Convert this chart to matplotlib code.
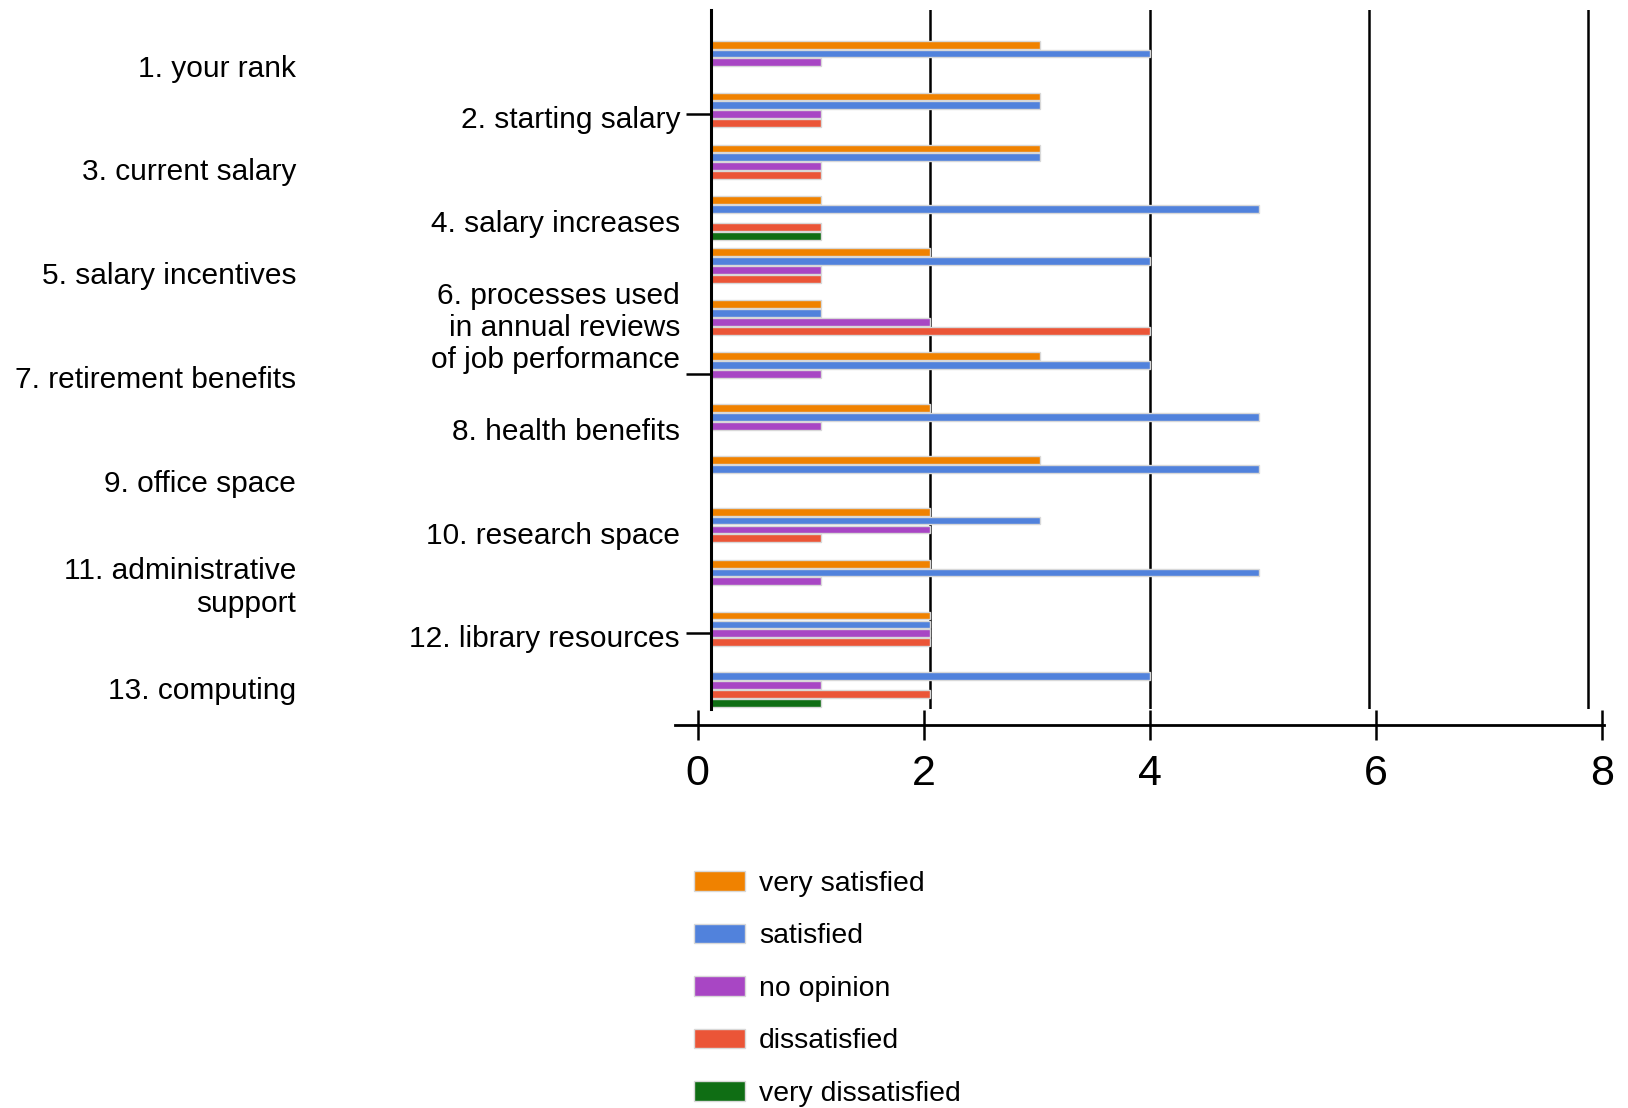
import matplotlib
matplotlib.use("Agg")
import matplotlib.pyplot as plt
import numpy as np

# survey items (13 questions) and response counts per rating
questions = [
    "1. your rank",
    "2. starting salary",
    "3. current salary",
    "4. salary increases",
    "5. salary incentives",
    "6. processes used\nin annual reviews\nof job performance",
    "7. retirement benefits",
    "8. health benefits",
    "9. office space",
    "10. research space",
    "11. administrative\nsupport",
    "12. library resources",
    "13. computing",
]
ratings = ["very satisfied", "satisfied", "no opinion", "dissatisfied", "very dissatisfied"]
colors = ["#F08200", "#5182DC", "#A846C4", "#EB5537", "#0F6E14"]

very_satisfied    = [3, 3, 3, 1, 2, 1, 3, 2, 3, 2, 2, 2, 0]
satisfied         = [4, 3, 3, 5, 4, 1, 4, 5, 5, 3, 5, 2, 4]
no_opinion        = [1, 1, 1, 0, 1, 2, 1, 1, 0, 2, 1, 2, 1]
dissatisfied      = [0, 1, 1, 1, 1, 4, 0, 0, 0, 1, 0, 2, 2]
very_dissatisfied = [0, 0, 0, 1, 0, 0, 0, 0, 0, 0, 0, 0, 1]
series = [very_satisfied, satisfied, no_opinion, dissatisfied, very_dissatisfied]

W, H = 1628, 1108
fig = plt.figure(figsize=(W / 100, H / 100), dpi=100)
label_font = ["Liberation Sans", "DejaVu Sans"]

# main plot area (pixel placement)
x0, x8, top, bot = 711, 1588, 10.4, 709
unit = (x8 - x0) / 8
xmax = 8.04
ax = fig.add_axes([x0 / W, 1 - bot / H, xmax * unit / W, (bot - top) / H])

y = np.arange(len(questions))
slot = 0.17
handles = []
for j, (vals, c) in enumerate(zip(series, colors)):
    b = ax.barh(y + (j - 2) * slot, vals, height=0.15, color=c,
                edgecolor="#d8d8d8", linewidth=1.0, zorder=3, label=ratings[j])
    handles.append(b)

ax.set_xlim(0, xmax)
ax.set_ylim(12.46, -1.0)
for gx in [2, 4, 6, 8]:
    ax.axvline(gx, color="black", lw=1.8, zorder=1)

for s in ["top", "right", "bottom"]:
    ax.spines[s].set_visible(False)
ax.spines["left"].set_linewidth(2.2)
ax.spines["left"].set_zorder(5)
ax.set_xticks([])
ax.set_yticks([1, 6, 11])
ax.set_yticklabels([])
ax.tick_params(axis="y", length=18, width=1.8, direction="out")

# category labels alternate between two columns
tr = ax.get_yaxis_transform()
for k, q in enumerate(questions):
    xpos = -0.4705 if k % 2 == 0 else -0.0351
    ax.text(xpos, k + 0.12, q, transform=tr, ha="right", va="center",
            fontsize=21.5, family=label_font, multialignment="right",
            linespacing=1.2)

# detached value axis underneath
ay, a_left, a_right = 724.7, 675, 1604
t0, t8 = 697.7, 1602
u2 = (t8 - t0) / 8
ax2 = fig.add_axes([a_left / W, 1 - ay / H, (a_right - a_left) / W, 0.0001])
ax2.set_xlim((a_left - t0) / u2, (a_right - t0) / u2)
for s in ["top", "right", "left"]:
    ax2.spines[s].set_visible(False)
ax2.spines["bottom"].set_linewidth(2.0)
ax2.set_yticks([])
ax2.set_xticks([0, 2, 4, 6, 8])
ax2.tick_params(axis="x", direction="inout", length=22, width=1.8, pad=10,
                labelsize=31)
for lab in ax2.get_xticklabels():
    lab.set_family(label_font)

fig.legend(handles=handles, loc="upper left", bbox_to_anchor=(694 / W, 1 - 871 / H),
           frameon=False, prop={"family": label_font, "size": 20.4},
           handlelength=1.8, handleheight=0.68, handletextpad=0.5,
           labelspacing=0.935, borderpad=0, borderaxespad=0)

fig.savefig("out.png", dpi=100)
